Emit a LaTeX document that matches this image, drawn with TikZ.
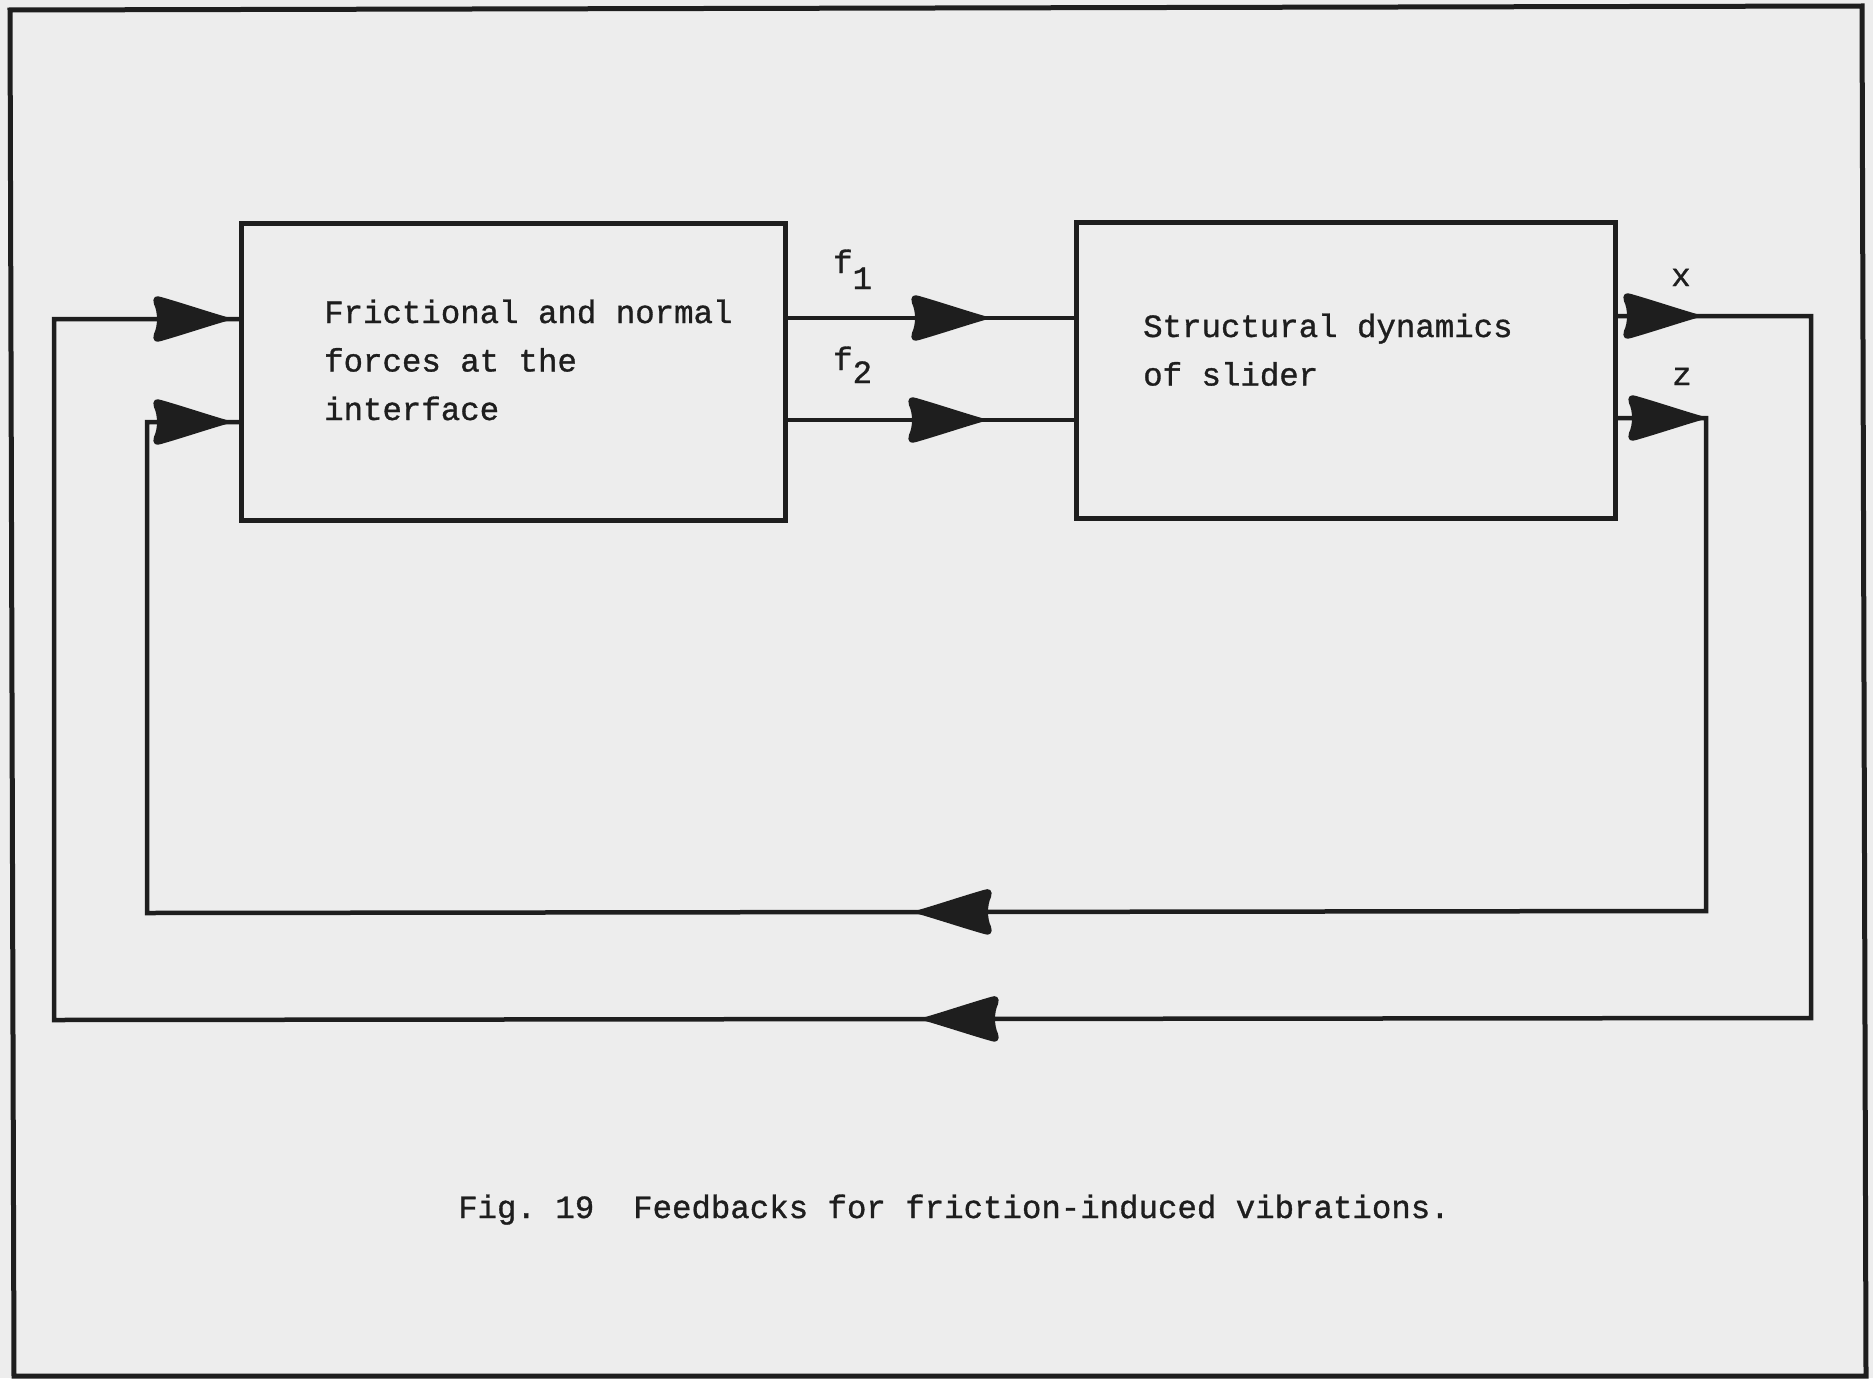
\documentclass[tikz,border=0pt]{standalone}
\usepackage{fontspec}
\newfontfamily\tw[FakeBold=1]{Liberation Mono}
\usetikzlibrary{decorations.markings}
\definecolor{paper}{HTML}{EDEDED}
\definecolor{ink}{HTML}{1E1E1E}
\frenchspacing
\newcommand\dartshape{\filldraw[ink, line width=2pt, line join=round]
  (0,0) .. controls (-18,5) and (-48,15) .. (-69,21)
  .. controls (-74,23) and (-77,21) .. (-75,15)
  .. controls (-71,7) and (-71,-7) .. (-75,-15)
  .. controls (-77,-21) and (-74,-23) .. (-69,-21)
  .. controls (-48,-15) and (-18,-5) .. cycle;}
\tikzset{
  dart/.style={postaction={decorate, decoration={markings, mark=at position #1 with {\dartshape}}}},
  conn/.style={draw=ink, line width=4.5pt, line join=miter},
  blk/.style={draw=ink, line width=5pt, inner sep=0pt, outer sep=0pt},
  txt/.style={font=\tw\fontsize{32.4}{48.5}\selectfont, text=ink, inner sep=0pt, anchor=base west, align=left},
}
\begin{document}
\begin{tikzpicture}[x=1pt,y=-1pt]
\fill[paper] (0,0) rectangle (1873,1378);
\useasboundingbox (0,0) rectangle (1873,1378);
\draw[ink, line width=5pt, line join=miter] (10,10) -- (1862,6) -- (1866,1376) -- (14,1376) -- cycle;

% blocks
\node[blk, minimum width=544pt, minimum height=297pt] (box1) at (513,371.5) {};
\node[blk, minimum width=539pt, minimum height=296pt] (box2) at (1345.5,370) {};

% block texts (anchor is the baseline of the last line)
\node[txt] (t1) at (324,420) {Frictional and normal\\forces at the\\interface};
\node[txt] (t2) at (1143,385.5) {Structural dynamics\\of slider};

% signal labels
\node[txt] (lf1) at (833,273) {f\raisebox{-16pt}{1}};
\node[txt] (lf2) at (833,370) {f\raisebox{-13pt}{2}};
\node[txt] (lx) at (1671,286) {x};
\node[txt] (lz) at (1672,385) {z};

% caption
\node[txt] (cap) at (458,1218) {Fig.~19~~Feedbacks for friction-induced vibrations.};

% port levels
\coordinate (yf1) at (0,318);
\coordinate (yf2) at (0,420);
\coordinate (yx) at (0,316);
\coordinate (yz) at (0,418);
\coordinate (yi1) at (0,319);
\coordinate (yi2) at (0,422);

% forward connectors
\draw[conn, dart=203pt] (box1.east |- yf1) -- (box2.west |- yf1);
\draw[conn, dart=200pt] (box1.east |- yf2) -- (box2.west |- yf2);

% feedback loops
\draw[conn, dart=85pt, dart=1787pt, dart=-11pt]
  (box2.east |- yx) -- (1811,316) -- (1811,1018) -- (54,1020) -- (54,319) -- (box1.west |- yi1);
\draw[conn, dart=90pt, dart=1375pt, dart=-11pt]
  (box2.east |- yz) -- (1706,418) -- (1706,911) -- (147,913) -- (147,422) -- (box1.west |- yi2);
\end{tikzpicture}
\end{document}
